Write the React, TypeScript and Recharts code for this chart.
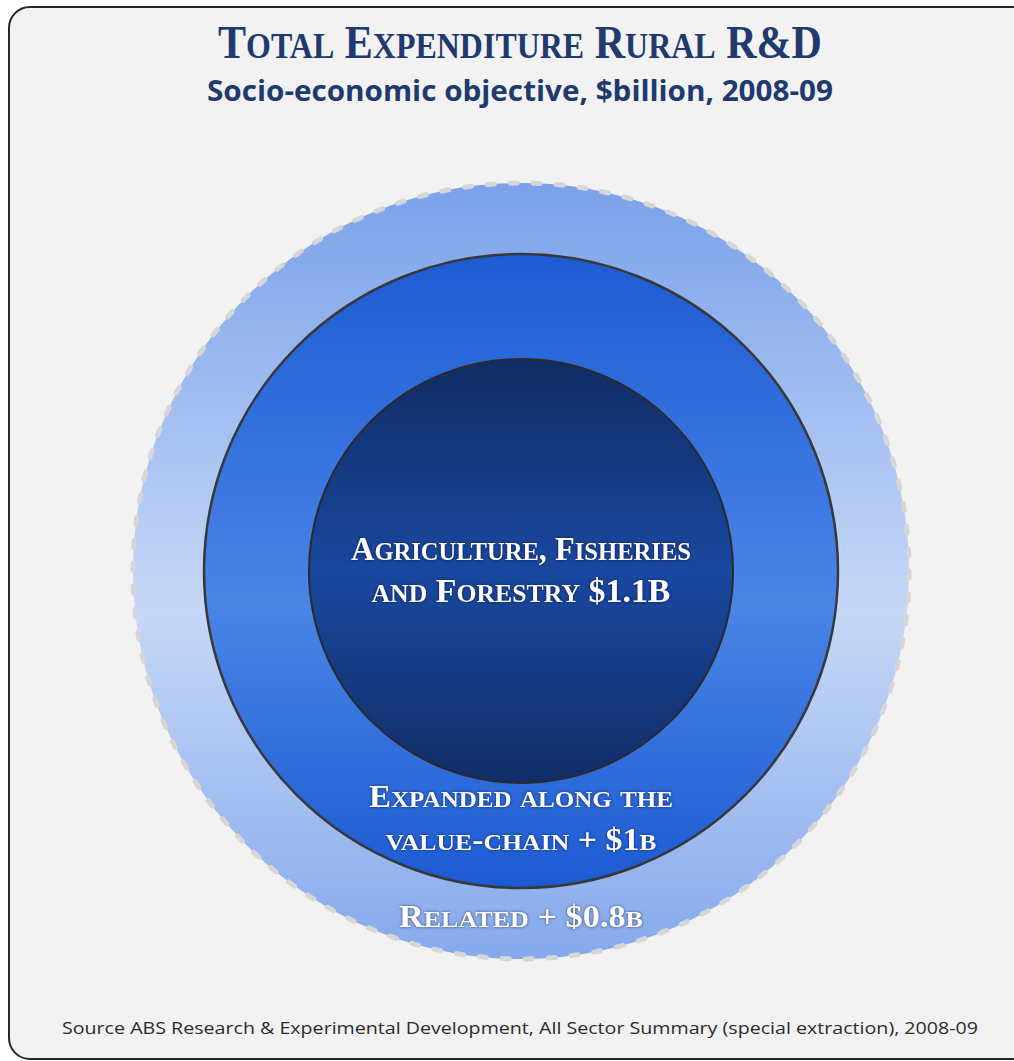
import { PieChart, Pie } from "recharts";

// rings, from outside to inside
const ringNames = ["Related", "Expanded along the value-chain", "Agriculture, Fisheries and Forestry"];
const ringValues = [0.8, 1, 1.1];
const ringLabels = [
  ["Related + $0.8b"],
  ["Expanded along the", "value-chain + $1b"],
  ["Agriculture, Fisheries", "and Forestry $1.1B"],
];

const title = "Total Expenditure Rural R&D";
const subtitle = "Socio-economic objective, $billion, 2008-09";
const source =
  "Source ABS Research & Experimental Development, All Sector Summary (special extraction), 2008-09";

const W = 1014;
const H = 1061;
const CX = 521;
const CY = 571;
const radii = [388, 317, 212];
const gradIds = ["outerGrad", "midGrad", "innerGrad"];
// per ring: baseline offsets from centre and line widths
const labelDy = [[356], [236, 279], [-11, 31]];
const labelWidths = [[244], [304, 271], [340, 299]];
const borders = [
  { stroke: "#d6d6d6", strokeWidth: 5, strokeDasharray: "7 16", strokeLinecap: "round" as const },
  { stroke: "#383838", strokeWidth: 2.5 },
  { stroke: "#2a2a2a", strokeWidth: 2 },
];

const serif = "'Liberation Serif', 'DejaVu Serif', serif";
const sans = "'Open Sans', 'Liberation Sans', sans-serif";

// small caps drawn by hand: lower case letters become smaller capitals
const smallCaps = (s: string, size: number) => {
  const runs: { low: boolean; text: string }[] = [];
  for (const ch of s) {
    const low = ch >= "a" && ch <= "z";
    const last = runs[runs.length - 1];
    if (last && last.low === low) last.text += ch;
    else runs.push({ low, text: ch });
  }
  return runs.map((r, i) => (
    <tspan key={i} fontSize={r.low ? size * 0.76 : size}>
      {r.text.toUpperCase()}
    </tspan>
  ));
};

const makeLabel = (ring: number) => (props: any) => {
  const { cx, cy, outerRadius } = props;
  return (
    <g>
      <circle cx={cx} cy={cy} r={outerRadius} fill="none" {...borders[ring]} />
      {ringLabels[ring].map((line, i) => (
        <text
          key={i}
          x={cx}
          y={cy + labelDy[ring][i]}
          textAnchor="middle"
          fill="#ffffff"
          fontFamily={serif}
          fontWeight="bold"
          fontSize={33}
          textLength={labelWidths[ring][i]}
          lengthAdjust="spacingAndGlyphs"
          style={{ filter: "drop-shadow(0px 0px 1.5px rgba(0,0,40,0.6))" }}
        >
          {smallCaps(line, ring === 2 ? 34 : 31)}
        </text>
      ))}
    </g>
  );
};

const App = () => {
  return (
    <div
      style={{
        position: "absolute",
        left: 0,
        top: 0,
        width: W,
        height: H,
        background: "#ffffff",
        overflow: "hidden",
      }}
    >
      <div
        style={{
          position: "absolute",
          left: 8,
          top: 6,
          width: 1040,
          height: 1050,
          border: "2px solid #262626",
          borderRadius: 22,
          background: "#f2f2f2",
        }}
      />
      <div style={{ position: "absolute", left: 0, top: 0 }}>
        <PieChart width={W} height={H} margin={{ top: 0, right: 0, bottom: 0, left: 0 }}>
          <defs>
            <linearGradient id="outerGrad" x1="0" y1="0" x2="0" y2="1">
              <stop offset="0%" stopColor="#7aa1ea" />
              <stop offset="55%" stopColor="#c6d8f7" />
              <stop offset="100%" stopColor="#85a9ec" />
            </linearGradient>
            <linearGradient id="midGrad" x1="0" y1="0" x2="0" y2="1">
              <stop offset="0%" stopColor="#1d5bd3" />
              <stop offset="55%" stopColor="#4a85e6" />
              <stop offset="100%" stopColor="#1c5ad2" />
            </linearGradient>
            <linearGradient id="innerGrad" x1="0" y1="0" x2="0" y2="1">
              <stop offset="0%" stopColor="#112c63" />
              <stop offset="50%" stopColor="#1a48a0" />
              <stop offset="100%" stopColor="#112d66" />
            </linearGradient>
          </defs>
          {ringValues.map((v, i) => (
            <Pie
              key={ringNames[i]}
              data={[{ name: ringNames[i], value: v }]}
              dataKey="value"
              nameKey="name"
              cx={CX}
              cy={CY}
              innerRadius={0}
              outerRadius={radii[i]}
              startAngle={90}
              endAngle={-270}
              fill={`url(#${gradIds[i]})`}
              stroke="none"
              labelLine={false}
              label={makeLabel(i)}
              isAnimationActive={false}
            />
          ))}
        </PieChart>
      </div>
      <svg
        width={W}
        height={H}
        style={{ position: "absolute", left: 0, top: 0, pointerEvents: "none" }}
      >
        <text
          x={520}
          y={58}
          textAnchor="middle"
          fill="#203a70"
          fontFamily={serif}
          fontWeight="bold"
          textLength={604}
          lengthAdjust="spacingAndGlyphs"
        >
          {smallCaps(title, 46)}
        </text>
        <text
          x={520}
          y={101}
          textAnchor="middle"
          fill="#203a70"
          fontFamily={sans}
          fontWeight="bold"
          fontSize={29}
          textLength={626}
          lengthAdjust="spacingAndGlyphs"
        >
          {subtitle}
        </text>
        <text
          x={520}
          y={1034}
          textAnchor="middle"
          fill="#2b2b2b"
          fontFamily={sans}
          fontSize={17}
          textLength={916}
          lengthAdjust="spacingAndGlyphs"
        >
          {source}
        </text>
      </svg>
    </div>
  );
};

export default App;
